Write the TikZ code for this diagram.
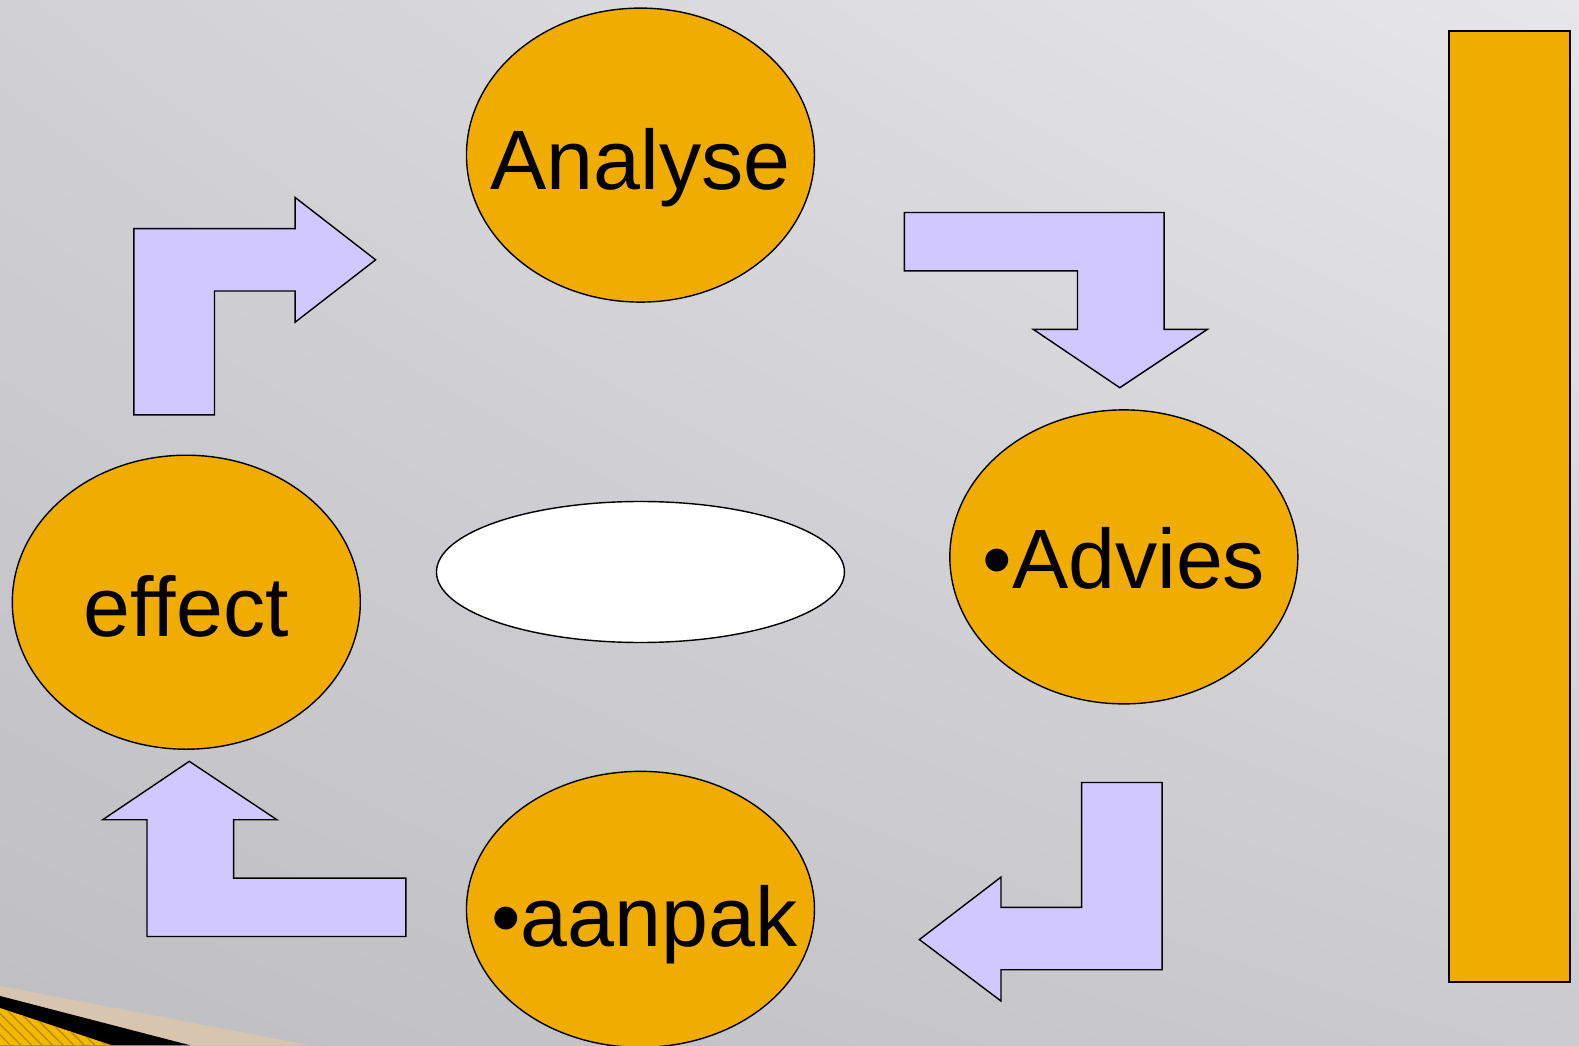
\documentclass[tikz,border=0pt]{standalone}
\usepackage{fontspec}
\setmainfont{Liberation Sans}
\usetikzlibrary{shapes.geometric,patterns,shadings}
\definecolor{oranje}{HTML}{F0AD00}
\definecolor{lila}{HTML}{D0C8FF}
\definecolor{beige}{HTML}{D8C5AF}
\definecolor{grijsLB}{HTML}{D0D0D5}
\definecolor{grijsRB}{HTML}{E7E7EB}
\definecolor{grijsLO}{HTML}{BEBEC3}
\definecolor{grijsRO}{HTML}{CACACF}
\tikzset{
  >=latex,
}
\tikzstyle{ovaal}=[ellipse,draw,fill=oranje,minimum width=3.48cm,minimum height=2.94cm,inner sep=0pt]
\tikzstyle{tekst}=[font=\fontsize{24}{28}\selectfont,anchor=base,inner sep=0pt]
\tikzstyle{pijl}=[draw,fill=lila,line join=miter]
\begin{document}
\begin{tikzpicture}[x=0.01007cm,y=-0.01007cm]
    \useasboundingbox (0,0) rectangle (1568,1038);
    \shade[upper left=grijsLB,upper right=grijsRB,lower left=grijsLO,lower right=grijsRO] (0,0) rectangle (1568,1038);
    \fill[beige] (0,979)--(308,1038)--(0,1038)--cycle;
    \fill[black] (0,989)--(189,1038)--(0,1038)--cycle;
    \fill[oranje!85!yellow] (0,1001)--(111,1038)--(0,1038)--cycle;
    \fill[pattern=north west lines,pattern color=oranje!80!black] (0,1001)--(111,1038)--(0,1038)--cycle;
    \node[ovaal] (analyse) at (636,154) {};
    \node[ovaal] (advies) at (1116,553) {};
    \node[ovaal] (effect) at (185,598) {};
    \node[ovaal,minimum height=2.76cm] (aanpak) at (636,903) {};
    \node[ellipse,draw,fill=white,minimum width=4.08cm,minimum height=1.41cm] (midden) at (636,568) {};
    \node[tekst] (analyseT) at ([yshift=-0.34cm]analyse.center) {Analyse};
    \node[tekst] (adviesT) at ([yshift=-0.32cm]advies.center) {•Advies};
    \node[tekst] (effectT) at ([yshift=-0.34cm]effect.center) {effect};
    \node[tekst] (aanpakT) at ([xshift=0.04cm,yshift=-0.37cm]aanpak.center) {•aanpak};
    \draw[fill=oranje,line width=0.7pt] (1439,31) rectangle (1559,975);
    \draw[pijl] (133,412)--(133,227)--(293,227)--(293,196)--(373,258)--(293,320)--(293,289)--(213,289)--(213,412)--cycle;
    \draw[pijl] (898,211)--(1156,211)--(1156,327)--(1199,327)--(1112,385)--(1026,327)--(1070,327)--(1070,269)--(898,269)--cycle;
    \draw[pijl] (1074,777)--(1154,777)--(1154,963)--(994,963)--(994,994)--(913,933)--(994,871)--(994,901)--(1074,901)--cycle;
    \draw[pijl] (403,872)--(403,930)--(146,930)--(146,814)--(102,814)--(188,756)--(275,814)--(232,814)--(232,872)--cycle;
  \end{tikzpicture}
\end{document}
